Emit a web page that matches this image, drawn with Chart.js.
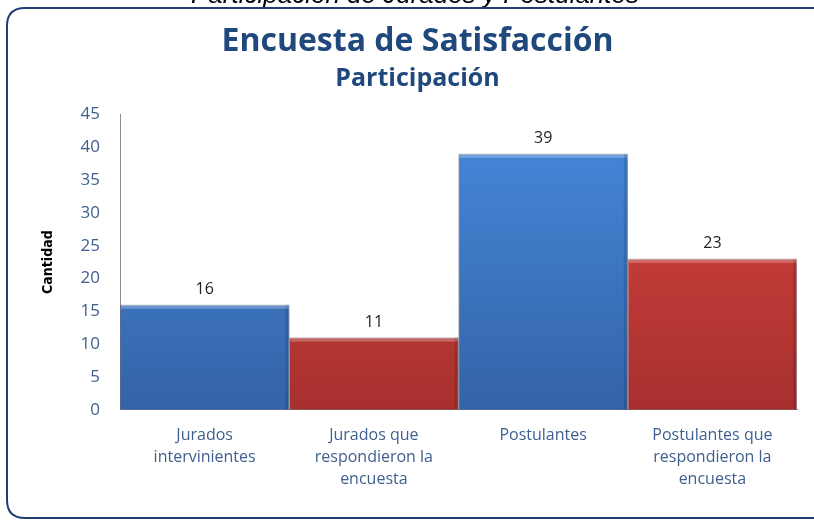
<!DOCTYPE html>
<html>
<head>
<meta charset="utf-8">
<script src="https://cdn.jsdelivr.net/npm/chart.js@4.4.1/dist/chart.umd.min.js"></script>
<style>
  html, body { margin: 0; padding: 0; background: #fff; }
  #wrap { width: 814px; height: 520px; position: relative; }
</style>
</head>
<body>
<div id="wrap"><canvas id="chart" width="814" height="520"></canvas></div>
<script>
// data
var categories = [
    ['Jurados', 'intervinientes'],
    ['Jurados que', 'respondieron la', 'encuesta'],
    ['Postulantes'],
    ['Postulantes que', 'respondieron la', 'encuesta']
]
var cantidad = [16, 11, 39, 23]
var barKind = ['azul', 'rojo', 'azul', 'rojo']
var yTicks = [0, 5, 10, 15, 20, 25, 30, 35, 40, 45]

var blueDark = '#1f497d'
var tickColor = '#3f5f8f'

function barFill(context) {
    var chart = context.chart
    var area = chart.chartArea
    if (!area) return '#4a7ebb'
    var g = chart.ctx.createLinearGradient(0, area.top, 0, area.bottom)
    if (barKind[context.dataIndex] == 'azul') {
        g.addColorStop(0, '#4689dc')
        g.addColorStop(1, '#3463a8')
    } else {
        g.addColorStop(0, '#dc4641')
        g.addColorStop(1, '#a6302e')
    }
    return g
}

// frame + cut off caption above the frame
var framePlugin = {
    id: 'frame',
    beforeDraw: function (chart) {
        var ctx = chart.ctx
        ctx.save()
        ctx.fillStyle = '#000'
        ctx.font = 'italic 26px "Liberation Sans"'
        ctx.textAlign = 'center'
        ctx.textBaseline = 'alphabetic'
        ctx.fillText('Participación de Jurados y Postulantes', 415, 3)
        ctx.fillStyle = '#fff'
        ctx.fillRect(0, 8, 814, 512)
        ctx.strokeStyle = '#1f3f70'
        ctx.lineWidth = 2
        var x = 7, y = 8, w = 830, h = 510, r = 18
        ctx.beginPath()
        ctx.moveTo(x + r, y)
        ctx.lineTo(x + w - r, y)
        ctx.quadraticCurveTo(x + w, y, x + w, y + r)
        ctx.lineTo(x + w, y + h - r)
        ctx.quadraticCurveTo(x + w, y + h, x + w - r, y + h)
        ctx.lineTo(x + r, y + h)
        ctx.quadraticCurveTo(x, y + h, x, y + h - r)
        ctx.lineTo(x, y + r)
        ctx.quadraticCurveTo(x, y, x + r, y)
        ctx.stroke()
        ctx.restore()
    },
    beforeDatasetsDraw: function (chart) {
        chart.ctx.save()
        chart.ctx.shadowColor = 'rgba(0,0,0,0.35)'
        chart.ctx.shadowBlur = 5
        chart.ctx.shadowOffsetX = 2
        chart.ctx.shadowOffsetY = 2
    },
    afterDatasetsDraw: function (chart) {
        chart.ctx.restore()
        // bevel highlight on the top of each bar + value labels
        var ctx = chart.ctx
        var meta = chart.getDatasetMeta(0)
        ctx.save()
        meta.data.forEach(function (bar, i) {
            var left = bar.x - bar.width / 2
            ctx.fillStyle = 'rgba(255,255,255,0.25)'
            ctx.fillRect(left + 1, bar.y, bar.width - 2, 4)
            ctx.fillStyle = 'rgba(0,0,0,0.12)'
            ctx.fillRect(left + bar.width - 4, bar.y, 3, bar.base - bar.y)
            ctx.fillStyle = '#222'
            ctx.font = '16px "Open Sans"'
            ctx.textAlign = 'center'
            ctx.textBaseline = 'alphabetic'
            ctx.fillText(cantidad[i], bar.x, bar.y - 11)
        })
        ctx.restore()
    }
}

var ctx = document.getElementById('chart').getContext('2d')
var chart = new Chart(ctx, {
    type: 'bar',
    data: {
        labels: categories,
        datasets: [{
            data: cantidad,
            backgroundColor: barFill,
            borderColor: 'rgba(30,40,70,0.25)',
            borderWidth: 1,
            barPercentage: 1,
            categoryPercentage: 1
        }]
    },
    options: {
        responsive: false,
        animation: false,
        layout: { padding: { left: 38, right: 17, top: 4, bottom: 15 } },
        plugins: {
            legend: { display: false },
            tooltip: { enabled: false },
            title: {
                display: true,
                text: 'Encuesta de Satisfacción',
                color: blueDark,
                font: { family: 'Open Sans', size: 32, weight: 'bold' },
                padding: { top: 19, bottom: 2 }
            },
            subtitle: {
                display: true,
                text: 'Participación',
                color: blueDark,
                font: { family: 'Open Sans', size: 25, weight: 'bold' },
                padding: { top: 0, bottom: 21 }
            }
        },
        scales: {
            x: {
                grid: { display: false, drawTicks: false },
                border: { color: '#8c8c8c' },
                ticks: {
                    color: tickColor,
                    font: { family: 'Open Sans', size: 16, lineHeight: 1.4 },
                    padding: 14,
                    maxRotation: 0
                }
            },
            y: {
                min: 0,
                max: 45,
                afterBuildTicks: function (axis) {
                    axis.ticks = yTicks.map(function (v) { return { value: v } })
                },
                afterFit: function (axis) { axis.width = 82 },
                grid: { display: false, drawTicks: true, tickLength: 5, tickColor: '#8c8c8c' },
                border: { color: '#8c8c8c' },
                ticks: {
                    color: tickColor,
                    font: { family: 'Open Sans', size: 17 },
                    padding: 15
                },
                title: {
                    display: true,
                    text: 'Cantidad',
                    color: '#000',
                    font: { family: '"DejaVu Sans Condensed", "Liberation Sans"', size: 14, weight: 'bold' },
                    padding: { top: 2, bottom: 0 }
                }
            }
        }
    },
    plugins: [framePlugin]
})
</script>
</body>
</html>
